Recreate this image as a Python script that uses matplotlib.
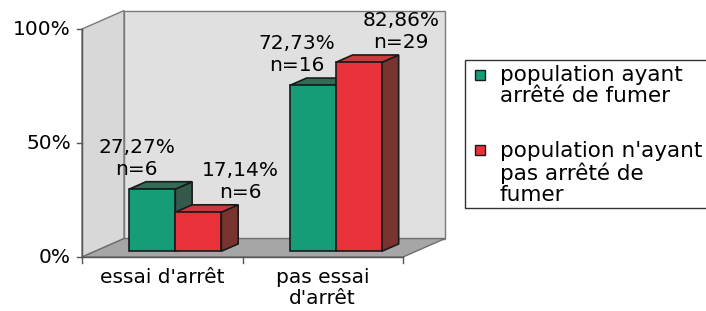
import matplotlib.pyplot as plt
from matplotlib.patches import Polygon, Rectangle

plt.rcParams['font.family'] = ['DejaVu Sans']

categories = ["essai d'arrêt", "pas essai\nd'arrêt"]
series = ["population ayant\narrêté de fumer", "population n'ayant\npas arrêté de\nfumer"]
values_stopped = [27.27, 72.73]
values_not = [17.14, 82.86]
counts_stopped = [6, 16]
counts_not = [6, 29]
yticks = [0, 50, 100]

# colours: front, top, side
col_green = ('#179c78', '#2d6e57', '#35594b')
col_red = ('#e8313b', '#c93a3c', '#7a3430')

# depth of the whole 3d box in data units
DX, DY = 0.262, 8.1
# bars sit between these fractions of the depth
b0, b1 = 0.31, 0.71
bar_w = 0.287

W, H = 706, 311
fig = plt.figure(figsize=(W / 100, H / 100), dpi=100)
ax = fig.add_axes([0, 0, 1, 1])
ax.set_xlim(-0.511, 3.888)
ax.set_ylim(-23.68, 112.72)
ax.axis('off')

n = len(categories)
# walls
ax.add_patch(Polygon([(0, 0), (DX, DY), (DX, 100 + DY), (0, 100)],
                     closed=True, fc='#d8d8d8', ec='#7a7a7a', lw=1))
ax.add_patch(Polygon([(DX, DY), (n + DX, DY), (n + DX, 100 + DY), (DX, 100 + DY)],
                     closed=True, fc='#e0e0e0', ec='#7a7a7a', lw=1))
ax.add_patch(Polygon([(0, 0), (n, 0), (n + DX, DY), (DX, DY)],
                     closed=True, fc='#a6a6a6', ec='#6e6e6e', lw=1))


def bar3d(x, h, cols):
    ox, oy = b0 * DX, b0 * DY
    dx, dy = (b1 - b0) * DX, (b1 - b0) * DY
    x0, x1 = x + ox, x + ox + bar_w
    front = [(x0, oy), (x1, oy), (x1, oy + h), (x0, oy + h)]
    top = [(x0, oy + h), (x1, oy + h), (x1 + dx, oy + h + dy), (x0 + dx, oy + h + dy)]
    side = [(x1, oy), (x1 + dx, oy + dy), (x1 + dx, oy + h + dy), (x1, oy + h)]
    for pts, c in zip((side, top, front), (cols[2], cols[1], cols[0])):
        ax.add_patch(Polygon(pts, closed=True, fc=c, ec='#1a1a1a', lw=1.2))


fs = 14.5
for i in range(n):
    g = i + 0.5 - bar_w
    r = i + 0.5
    bar3d(g, values_stopped[i], col_green)
    bar3d(r, values_not[i], col_red)

# labels
lab_off = [(-0.016, 7.0), (0.345, 7.0)]
for i in range(n):
    g = i + 0.5 - bar_w
    r = i + 0.5
    ax.text(g + bar_w / 2 + lab_off[0][0], values_stopped[i] + lab_off[0][1],
            f"{values_stopped[i]:.2f}%".replace('.', ',') + f"\nn={counts_stopped[i]}",
            ha='center', va='bottom', fontsize=fs, linespacing=1.2)
    ax.text(r + bar_w / 2 + lab_off[1][0], values_not[i] + lab_off[1][1],
            f"{values_not[i]:.2f}%".replace('.', ',') + f"\nn={counts_not[i]}",
            ha='center', va='bottom', fontsize=fs, linespacing=1.2)

# axes lines and ticks
ax.plot([0, 0], [0, 100], color='#555555', lw=1)
ax.plot([0, n], [0, 0], color='#555555', lw=1)
for t in yticks:
    ax.plot([-0.03, 0], [t, t], color='#555555', lw=1)
    ax.text(-0.07, t, f"{t}%", ha='right', va='center', fontsize=fs)
for i in range(n + 1):
    ax.plot([i, i], [0, -2.5], color='#555555', lw=1)
for i, c in enumerate(categories):
    ax.text(i + 0.5, -5.0, c, ha='center', va='top', fontsize=fs, linespacing=1.1)

# legend, built by hand so the swatches line up with the first text line
T = ax.transAxes
ax.add_patch(Rectangle((465 / W, 1 - 208 / H), 260 / W, 148 / H, transform=T,
                       fc='white', ec='#333333', lw=1, clip_on=True))
sw_y = [75, 150]
txt_y = [65, 141]
for lab, cols, sy, ty in zip(series, (col_green, col_red), sw_y, txt_y):
    ax.add_patch(Rectangle((475 / W, 1 - (sy + 5) / H), 10 / W, 10 / H, transform=T,
                           fc=cols[0], ec='#1a1a1a', lw=1))
    ax.text(500 / W, 1 - ty / H, lab, transform=T, ha='left', va='top',
            fontsize=15.5, linespacing=1.07)

fig.savefig('out.png', dpi=100)
